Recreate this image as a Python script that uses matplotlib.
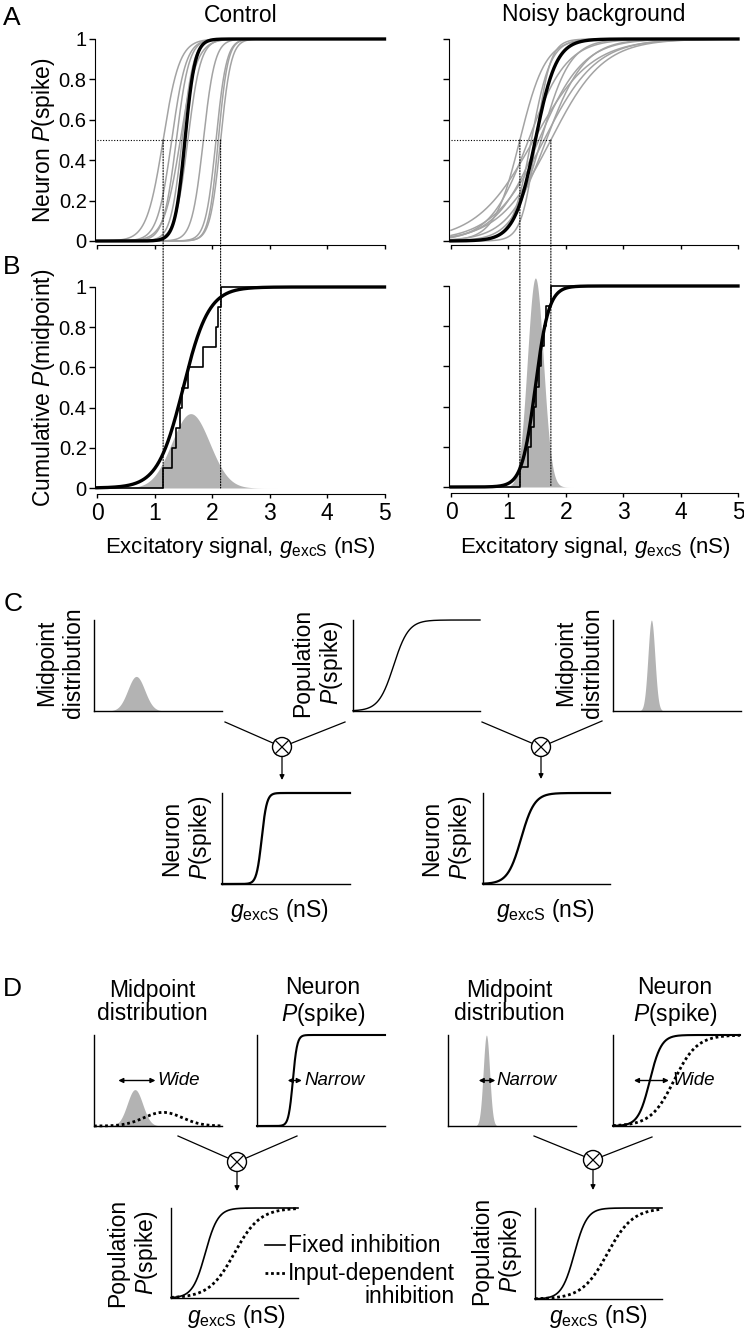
import numpy as np
import matplotlib

matplotlib.use("Agg")
import matplotlib.pyplot as plt
from matplotlib.patches import Circle, ConnectionPatch

W, H = 744, 1342

plt.rcParams["font.family"] = ["Liberation Sans", "DejaVu Sans"]
plt.rcParams["mathtext.fontset"] = "custom"
plt.rcParams["mathtext.rm"] = "Liberation Sans"
plt.rcParams["mathtext.it"] = "Liberation Sans:italic"
plt.rcParams["mathtext.bf"] = "Liberation Sans:bold"

# ---- panel A/B data ----
X_TICKS = [0, 1, 2, 3, 4, 5]
X_TICK_LABELS = ["0", "1", "2", "3", "4", "5"]
Y_TICKS = [0, 0.2, 0.4, 0.6, 0.8, 1]
Y_TICK_LABELS = ["0", "0.2", "0.4", "0.6", "0.8", "1"]

# single-neuron sigmoid fits: midpoint (nS) and slope (1/nS)
control_midpoints = [1.15, 1.30, 1.38, 1.45, 1.48, 1.58, 1.85, 2.07, 2.11, 2.15]
control_slopes = [7, 8, 9, 7, 10, 9, 10, 11, 12, 11]
noisy_midpoints = [1.20, 1.35, 1.40, 1.44, 1.48, 1.53, 1.57, 1.62, 1.66, 1.74]
noisy_slopes = [4.5, 3.0, 6.0, 2.0, 8.0, 2.6, 4.0, 2.2, 3.0, 2.2]

# thick black population curve in A: [control, noisy]
population_mid = [1.53, 1.47]
population_slope = [11.5, 5.5]
# fitted cumulative curve in B
cdf_fit_mid = [1.50, 1.47]
cdf_fit_slope = [4.5, 8.5]
# grey midpoint distribution in B
dist_mean = [1.63, 1.47]
dist_sd = [0.33, 0.14]
dist_peak = [0.37, 1.04]

# ---- schematic panels C/D (unitless axes 0..1) ----
c_dist_center = [0.33, 0.30]
c_dist_sd = [0.066, 0.027]
c_dist_peak = [0.38, 1.0]
c_pop_mid, c_pop_slope = 0.32, 17
c_neuron_mid = [0.31, 0.30]
c_neuron_slope = [50, 19]

d_dist_center = [0.32, 0.30]
d_dist_sd = [0.06, 0.025]
d_dist_peak = [0.40, 1.0]
d_dist_input = (0.54, 0.15, 0.15)  # centre, sd, peak of dotted curve
d_neuron_fixed_mid = [0.28, 0.29]
d_neuron_fixed_slope = [60, 22]
d_neuron_input = (0.48, 11)
d_pop_fixed_mid = [0.27, 0.31]
d_pop_fixed_slope = [20, 20]
d_pop_input_mid = [0.50, 0.57]
d_pop_input_slope = [10, 10]

GREY_LINE = "#a3a3a3"
GREY_FILL = "#b3b3b3"
DOTS = (0, (1, 1.5))


def logistic(x, mid, k):
    return 1.0 / (1.0 + np.exp(-k * (np.asarray(x) - mid)))


def bump(x, mu, sd, peak):
    return peak * np.exp(-0.5 * ((np.asarray(x) - mu) / sd) ** 2)


fig = plt.figure(figsize=(W / 100, H / 100), dpi=100)


def add_axes_px(x0, y0, x1, y1):
    return fig.add_axes([x0 / W, 1 - y1 / H, (x1 - x0) / W, (y1 - y0) / H])


def ftext(x, y, s, **kw):
    kw.setdefault("ha", "center")
    kw.setdefault("va", "center")
    return fig.text(x / W, 1 - y / H, s, **kw)


def style_main(ax, left_off, bottom_off, xlabels, ylabels):
    ax.set_xlim(0, 5)
    ax.set_ylim(0, 1)
    ax.patch.set_alpha(0)
    for side in ("top", "right"):
        ax.spines[side].set_visible(False)
    ax.spines["left"].set_position(("outward", left_off * 0.72))
    ax.spines["bottom"].set_position(("outward", bottom_off * 0.72))
    ax.spines["left"].set_bounds(0, 1)
    ax.spines["bottom"].set_bounds(0, 5)
    ax.set_xticks(X_TICKS)
    ax.set_yticks(Y_TICKS)
    ax.set_xticklabels(X_TICK_LABELS if xlabels else [])
    ax.set_yticklabels(Y_TICK_LABELS if ylabels else [])
    ax.tick_params(axis="y", length=4, width=1, pad=2, labelsize=14.5)
    ax.tick_params(axis="x", length=3, width=1, pad=3, labelsize=16.5)


xs = np.linspace(0, 5, 800)

ax_a = [add_axes_px(97, 39, 384.5, 241), add_axes_px(451, 39, 738, 241)]
ax_b = [add_axes_px(97, 287, 384.5, 488), add_axes_px(451, 286, 738, 487)]

groups = [(control_midpoints, control_slopes), (noisy_midpoints, noisy_slopes)]
for i, (mids, slopes) in enumerate(groups):
    a, b = ax_a[i], ax_b[i]
    style_main(a, 2, 4, xlabels=False, ylabels=(i == 0))
    style_main(b, 2, 6, xlabels=True, ylabels=(i == 0))

    for m, k in zip(mids, slopes):
        a.plot(xs, logistic(xs, m, k), color=GREY_LINE, lw=1.1, clip_on=False)
    a.plot(xs, logistic(xs, population_mid[i], population_slope[i]),
           color="black", lw=2.4, clip_on=False, zorder=4)

    lo, hi = min(mids), max(mids)
    a.plot([0, hi], [0.5, 0.5], color="black", lw=0.8, ls=DOTS)
    for xv in (lo, hi):
        con = ConnectionPatch(xyA=(xv, 0.5), coordsA=a.transData,
                              xyB=(xv, 0), coordsB=b.transData,
                              color="black", lw=0.8, ls=DOTS)
        fig.add_artist(con)

    b.fill_between(xs, 0, bump(xs, dist_mean[i], dist_sd[i], dist_peak[i]),
                   color=GREY_FILL, lw=0, clip_on=False)
    srt = sorted(mids)
    n = len(srt)
    step_x = [0] + srt + [5]
    step_y = [0] + [(j + 1) / n for j in range(n)] + [1]
    b.step(step_x, step_y, where="post", color="black", lw=1.2, clip_on=False)
    b.plot(xs, logistic(xs, cdf_fit_mid[i], cdf_fit_slope[i]),
           color="black", lw=2.4, clip_on=False, zorder=4)

ftext(241, 15, "Control", size=16.5)
ftext(594, 15, "Noisy background", size=16.5)
ftext(44, 140, r"Neuron $\mathit{P}$(spike)", size=16.5, rotation=90)
ftext(44, 388, r"Cumulative $\mathit{P}$(midpoint)", size=16.5, rotation=90)
xlab = r"Excitatory signal, $\mathit{g}_{\mathrm{excS}}$ (nS)"
ftext(240, 547, xlab, size=16)
ftext(595, 547, xlab, size=16)

for letter, (px, py) in zip("ABCD", [(12, 18), (12, 267), (13, 604), (12, 989)]):
    ftext(px, py, letter, size=19)


# ---- schematic axes ----
def schematic(x0, y0, x1, y1):
    ax = add_axes_px(x0, y0, x1, y1)
    ax.set_xlim(0, 1)
    ax.set_ylim(0, 1)
    ax.patch.set_alpha(0)
    for side in ("top", "right"):
        ax.spines[side].set_visible(False)
    for side in ("left", "bottom"):
        ax.spines[side].set_linewidth(1.0)
    ax.set_xticks([])
    ax.set_yticks([])
    return ax


u = np.linspace(0, 1, 400)
gexc = r"$\mathit{g}_{\mathrm{excS}}$ (nS)"
pop_lab = "Population\n" + r"$\mathit{P}$(spike)"
neu_lab = "Neuron\n" + r"$\mathit{P}$(spike)"
mid_lab = "Midpoint\ndistribution"

# C
c_boxes = [(94, 620, 222, 711), (613, 620, 741, 711)]
for i, box in enumerate(c_boxes):
    ax = schematic(*box)
    ax.fill_between(u, 0, bump(u, c_dist_center[i], c_dist_sd[i], c_dist_peak[i]),
                    color=GREY_FILL, lw=0, clip_on=False)
ax = schematic(353, 620, 480, 711)
ax.plot(u, logistic(u, c_pop_mid, c_pop_slope), color="black", lw=1.0, clip_on=False)
for i, box in enumerate([(222, 793, 350, 884), (483, 793, 610, 884)]):
    ax = schematic(*box)
    ax.plot(u, logistic(u, c_neuron_mid[i], c_neuron_slope[i]), color="black",
            lw=1.6, clip_on=False)

ftext(60, 663, mid_lab, size=16.5, rotation=90)
ftext(318, 663, pop_lab, size=16.5, rotation=90)
ftext(579, 663, mid_lab, size=16.5, rotation=90)
ftext(187, 838, neu_lab, size=16.5, rotation=90)
ftext(447, 838, neu_lab, size=16.5, rotation=90)
ftext(280, 911, gexc, size=16.5)
ftext(546, 911, gexc, size=16.5)

# D
DOT_THICK = (0, (1, 1))
arrow_kw = dict(arrowstyle="<|-|>", color="black", lw=1.0, mutation_scale=7,
                shrinkA=0, shrinkB=0)

ax = schematic(94, 1035, 222, 1126)
ax.fill_between(u, 0, bump(u, d_dist_center[0], d_dist_sd[0], d_dist_peak[0]),
                color=GREY_FILL, lw=0, clip_on=False)
ax.plot(u, bump(u, *d_dist_input), color="black", lw=2.0, ls=DOT_THICK, clip_on=False)
ax.annotate("", xy=(0.48, 0.5), xytext=(0.19, 0.5), arrowprops=arrow_kw)
ax.text(0.495, 0.5, "Wide", style="italic", size=13.5, ha="left", va="center")

ax = schematic(257, 1035, 385, 1126)
ax.plot(u, logistic(u, d_neuron_fixed_mid[0], d_neuron_fixed_slope[0]),
        color="black", lw=1.5, clip_on=False)
ax.annotate("", xy=(0.35, 0.5), xytext=(0.24, 0.5), arrowprops=arrow_kw)
ax.text(0.37, 0.5, "Narrow", style="italic", size=13.5, ha="left", va="center")

ax = schematic(448, 1035, 576, 1126)
ax.fill_between(u, 0, bump(u, d_dist_center[1], d_dist_sd[1], d_dist_peak[1]),
                color=GREY_FILL, lw=0, clip_on=False)
ax.annotate("", xy=(0.37, 0.5), xytext=(0.24, 0.5), arrowprops=arrow_kw)
ax.text(0.375, 0.5, "Narrow", style="italic", size=13.5, ha="left", va="center")

ax = schematic(613, 1035, 740, 1126)
ax.plot(u, logistic(u, d_neuron_fixed_mid[1], d_neuron_fixed_slope[1]),
        color="black", lw=1.5, clip_on=False)
ax.plot(u, logistic(u, *d_neuron_input), color="black", lw=2.0, ls=DOT_THICK,
        clip_on=False)
ax.annotate("", xy=(0.44, 0.5), xytext=(0.165, 0.5), arrowprops=arrow_kw)
ax.text(0.465, 0.5, "Wide", style="italic", size=13.5, ha="left", va="center")

for i, box in enumerate([(171, 1208, 298, 1298), (535, 1208, 662, 1299)]):
    ax = schematic(*box)
    ax.plot(u, logistic(u, d_pop_fixed_mid[i], d_pop_fixed_slope[i]),
            color="black", lw=1.2, clip_on=False)
    ax.plot(u, logistic(u, d_pop_input_mid[i], d_pop_input_slope[i]),
            color="black", lw=2.0, ls=DOT_THICK, clip_on=False)

ftext(152, 1002, mid_lab, size=16.5, linespacing=1.05)
ftext(323, 1002, neu_lab, size=16.5, linespacing=1.05)
ftext(509, 1002, mid_lab, size=16.5, linespacing=1.05)
ftext(675, 1002, neu_lab, size=16.5, linespacing=1.05)
ftext(133, 1253, pop_lab, size=16.5, rotation=90)
ftext(497, 1251, pop_lab, size=16.5, rotation=90)
ftext(237, 1317, gexc, size=16.5)
ftext(599, 1317, gexc, size=16.5)

# ---- overlay for connectors and legend (pixel coordinates) ----
ov = fig.add_axes([0, 0, 1, 1])
ov.set_xlim(0, W)
ov.set_ylim(H, 0)
ov.axis("off")


def combiner(left, right, centre, arrow_end, r=9.5):
    cx, cy = centre
    for ox, oy in (left, right):
        d = np.hypot(ox - cx, oy - cy)
        ex, ey = cx + r * (ox - cx) / d, cy + r * (oy - cy) / d
        ov.plot([ox, ex], [oy, ey], color="black", lw=0.9)
    ov.add_patch(Circle((cx, cy), r, fill=False, edgecolor="black", lw=1.0))
    q = r * 0.7071
    ov.plot([cx - q, cx + q], [cy - q, cy + q], color="black", lw=0.9)
    ov.plot([cx - q, cx + q], [cy + q, cy - q], color="black", lw=0.9)
    ov.annotate("", xy=(cx, arrow_end), xytext=(cx, cy + r),
                arrowprops=dict(arrowstyle="-|>", color="black", lw=0.9,
                                mutation_scale=7, shrinkA=0, shrinkB=0))


combiner((225, 722), (345, 722), (282, 747), 780)
combiner((482, 722), (602, 721), (541, 747), 779)
combiner((178, 1136), (297, 1136), (237, 1162), 1191)
combiner((534, 1136), (652, 1137), (593, 1160), 1190)

ov.plot([265, 285], [1245, 1245], color="black", lw=1.2)
ov.plot([265, 285], [1273, 1273], color="black", lw=2.0, ls=DOT_THICK)
ftext(288, 1245, "Fixed inhibition", size=16.5, ha="left")
ftext(288, 1285, "Input-dependent\ninhibition", size=16.5, ha="left",
      multialignment="right", linespacing=1.05)

fig.savefig("out.png", dpi=100)
